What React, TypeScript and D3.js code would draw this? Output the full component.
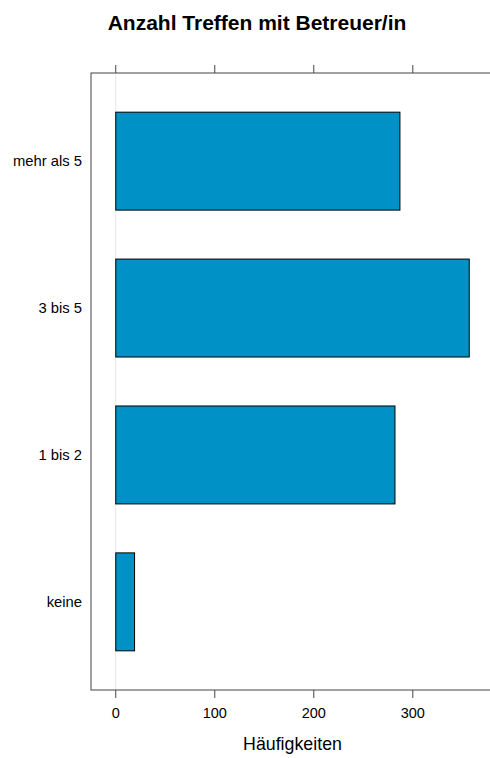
import React from "react";
import * as d3 from "d3";

const categories = ["keine", "1 bis 2", "3 bis 5", "mehr als 5"];
const values = [19, 282, 357, 287];
const xTicks = [0, 100, 200, 300];
const title = "Anzahl Treffen mit Betreuer/in";
const xLabel = "Häufigkeiten";

const W = 490;
const H = 758;
const panel = { left: 91, right: 494, top: 73, bottom: 690 };

export default function App() {
  const x = d3.scaleLinear().domain([-25, 382]).range([panel.left, panel.right]);
  const y = d3
    .scaleLinear()
    .domain([0.4, categories.length + 0.6])
    .range([panel.bottom, panel.top]);
  const barH = ((y(1) - y(2)) * 2) / 3;
  const font = "Liberation Sans, Arial, sans-serif";
  return (
    <svg width={W} height={H} style={{ position: "absolute", left: 0, top: 0 }} fontFamily={font}>
      <rect width={W} height={H} fill="#fff" />
      <text x={257} y={30} textAnchor="middle" fontWeight="bold" fontSize={21}>
        {title}
      </text>
      <line x1={x(0)} x2={x(0)} y1={panel.top} y2={panel.bottom} stroke="#e6e6e6" strokeWidth={1} />
      {categories.map((c, i) => (
        <rect
          key={c}
          x={x(0)}
          y={y(i + 1) - barH / 2}
          width={x(values[i]) - x(0)}
          height={barH}
          fill="#0091c7"
          stroke="#000"
          strokeWidth={1}
        />
      ))}
      <rect
        x={panel.left}
        y={panel.top}
        width={panel.right - panel.left}
        height={panel.bottom - panel.top}
        fill="none"
        stroke="#444"
        strokeWidth={1}
      />
      {xTicks.map((t) => (
        <g key={t}>
          <line x1={x(t)} x2={x(t)} y1={panel.top - 8} y2={panel.top} stroke="#444" />
          <line x1={x(t)} x2={x(t)} y1={panel.bottom} y2={panel.bottom + 8} stroke="#444" />
          <text x={x(t)} y={718} textAnchor="middle" fontSize={14.5}>
            {t}
          </text>
        </g>
      ))}
      {categories.map((c, i) => (
        <text key={c} x={82} y={y(i + 1)} dy="0.35em" textAnchor="end" fontSize={14.8}>
          {c}
        </text>
      ))}
      <text x={292.5} y={750} textAnchor="middle" fontSize={17.8}>
        {xLabel}
      </text>
    </svg>
  );
}
